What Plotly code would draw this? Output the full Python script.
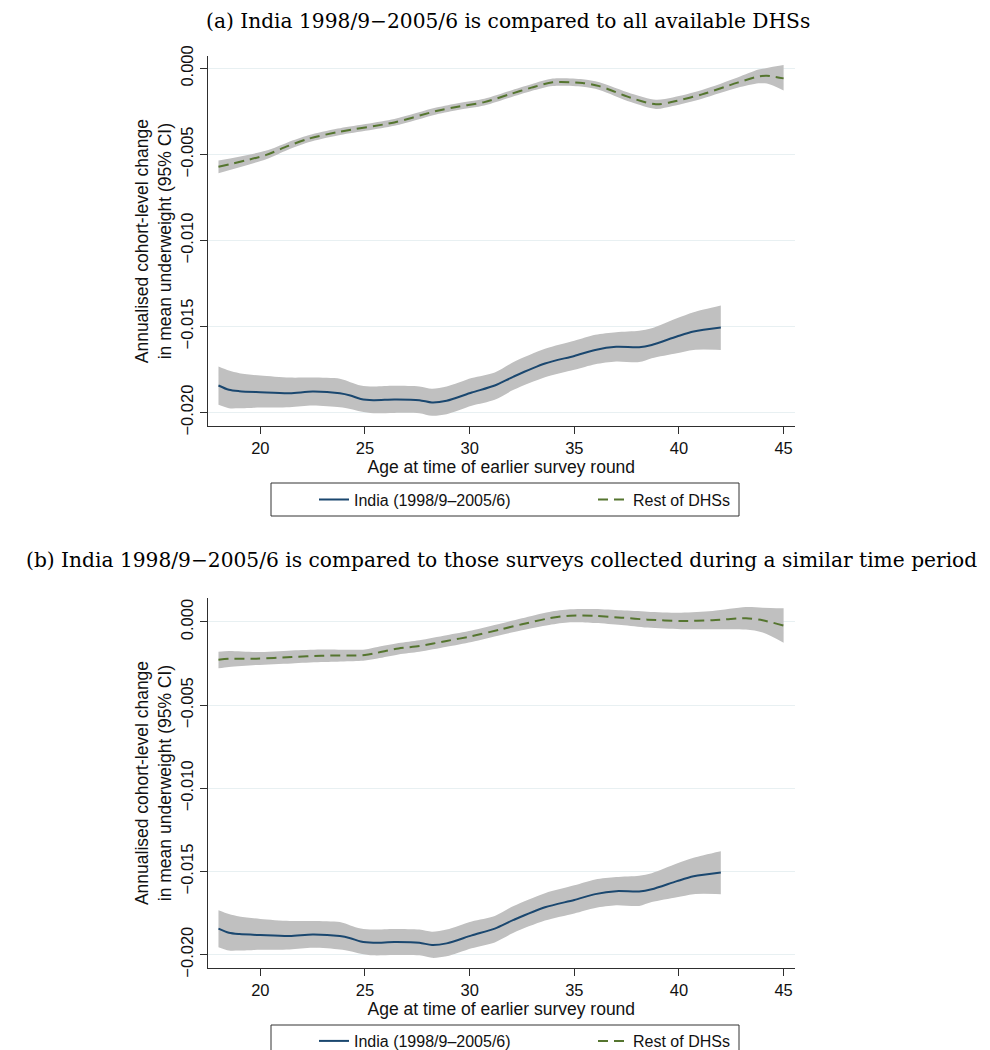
import plotly.graph_objects as go

# ---------------- data ----------------
# India (1998/9-2005/6) -- identical estimates in both panels
india_age = [18.0, 18.5, 19.0, 20.0, 21.4, 22.5, 23.8, 24.3, 24.8, 25.4, 26.4, 27.6, 28.2,
             28.9, 30.1, 31.2, 32.1, 33.6, 35.0, 36.0, 37.0, 38.1, 38.7, 39.9, 40.7, 42.0]
india_mean = [-0.01843, -0.01868, -0.01876, -0.01882, -0.01888, -0.01878, -0.01888, -0.01901,
              -0.01921, -0.01928, -0.01924, -0.01928, -0.01942, -0.01932, -0.01884, -0.01843,
              -0.01791, -0.01715, -0.01671, -0.01636, -0.01618, -0.01620, -0.01607, -0.01558,
              -0.01529, -0.01506]
india_upper = [-0.01733, -0.01756, -0.01771, -0.01785, -0.01797, -0.01797, -0.01804, -0.01824,
               -0.01843, -0.01849, -0.01845, -0.01849, -0.01862, -0.01849, -0.01800, -0.01767,
               -0.01707, -0.01630, -0.01583, -0.01548, -0.01533, -0.01525, -0.01510, -0.01452,
               -0.01417, -0.01378]
india_lower = [-0.01955, -0.01975, -0.01975, -0.01971, -0.01969, -0.01959, -0.01969, -0.01979,
               -0.01994, -0.02004, -0.02002, -0.02004, -0.02019, -0.02010, -0.01961, -0.01926,
               -0.01868, -0.01795, -0.01752, -0.01719, -0.01703, -0.01707, -0.01684, -0.01655,
               -0.01636, -0.01636]

# Rest of DHSs -- panel (a): all available DHSs
rest_a_age = [18.0, 20.25, 21.3, 22.3, 23.7, 26.4, 28.4, 29.5, 30.7, 31.9, 32.95, 33.97,
              35.4, 36.2, 37.7, 38.9, 39.7, 41.1, 42.8, 43.8, 44.2, 45.0]
rest_a_mean = [-0.00572, -0.00504, -0.00452, -0.00409, -0.00370, -0.00314, -0.00248, -0.00221,
               -0.00196, -0.00151, -0.00112, -0.00081, -0.00085, -0.00103, -0.00171, -0.00209,
               -0.00194, -0.00151, -0.00083, -0.00047, -0.00043, -0.00058]
rest_a_upper = [-0.00535, -0.00479, -0.00430, -0.00389, -0.00350, -0.00294, -0.00228, -0.00201,
                -0.00176, -0.00131, -0.00092, -0.00059, -0.00063, -0.00081, -0.00146, -0.00182,
                -0.00169, -0.00126, -0.00053, -0.00007, 0.00002, 0.00019]
rest_a_lower = [-0.00609, -0.00529, -0.00474, -0.00429, -0.00390, -0.00334, -0.00268, -0.00241,
                -0.00216, -0.00171, -0.00132, -0.00103, -0.00107, -0.00125, -0.00196, -0.00236,
                -0.00219, -0.00176, -0.00113, -0.00087, -0.00088, -0.00128]

# Rest of DHSs -- panel (b): surveys from a similar time period
rest_b_age = [18.0, 18.5, 19.8, 21.5, 22.9, 25.0, 25.6, 26.6, 27.6, 28.9, 30.1, 31.5, 32.5,
              33.8, 34.8, 36.0, 37.25, 38.5, 40.1, 41.6, 43.2, 44.0, 45.0]
rest_b_mean = [-0.00227, -0.00221, -0.00221, -0.00211, -0.00203, -0.00199, -0.00185, -0.00159,
               -0.00145, -0.00114, -0.00086, -0.00044, -0.00014, 0.00022, 0.00038, 0.00036,
               0.00026, 0.00014, 0.00006, 0.00010, 0.00022, 0.00010, -0.00022]
rest_b_upper = [-0.00179, -0.00175, -0.00181, -0.00171, -0.00165, -0.00165, -0.00151, -0.00127,
                -0.00110, -0.00080, -0.00052, -0.00010, 0.00022, 0.00060, 0.00076, 0.00078,
                0.00070, 0.00062, 0.00056, 0.00066, 0.00090, 0.00086, 0.00082]
rest_b_lower = [-0.00279, -0.00271, -0.00259, -0.00249, -0.00241, -0.00231, -0.00219, -0.00195,
                -0.00179, -0.00149, -0.00120, -0.00078, -0.00050, -0.00018, -0.00002, -0.00006,
                -0.00018, -0.00034, -0.00044, -0.00044, -0.00046, -0.00064, -0.00125]

x_ticks = [20, 25, 30, 35, 40, 45]
y_ticks = [0.0, -0.005, -0.010, -0.015, -0.020]
y_ticktext = ["0.000", "\u22120.005", "\u22120.010", "\u22120.015", "\u22120.020"]

series_names = ["India (1998/9\u20132005/6)", "Rest of DHSs"]
panel_titles = [
    "(a) India 1998/9\u22122005/6 is compared to all available DHSs",
    "(b) India 1998/9\u22122005/6 is compared to those surveys collected during a similar time period",
]
x_title = "Age at time of earlier survey round"
y_title = "Annualised cohort-level change<br>in mean underweight (95% CI)"

# ---------------- style ----------------
W, H = 990, 1050
NAVY = "#1a476f"
GREEN = "#55752f"
BAND = "#c0c0c0"
GRID = "#e8f0f2"
AXIS = "#2e2e2e"
TXT = "#111111"
SANS = "Liberation Sans, Arial, sans-serif"
SERIF = "DejaVu Serif, serif"


def px_x(p):
    return p / W


def px_y(p):
    return 1 - p / H


fig = go.Figure()


def add_panel(xa, ya, legends, rest_age, rest_mean, rest_up, rest_lo):
    # CI bands
    for age, up, lo in [(india_age, india_upper, india_lower), (rest_age, rest_up, rest_lo)]:
        fig.add_trace(go.Scatter(x=age, y=up, xaxis=xa, yaxis=ya, mode="lines",
                                 line=dict(width=0, color=BAND, shape="spline", smoothing=0.8),
                                 showlegend=False, hoverinfo="skip"))
        fig.add_trace(go.Scatter(x=age, y=lo, xaxis=xa, yaxis=ya, mode="lines",
                                 line=dict(width=0, color=BAND, shape="spline", smoothing=0.8),
                                 fill="tonexty", fillcolor=BAND,
                                 showlegend=False, hoverinfo="skip"))
    fig.add_trace(go.Scatter(x=india_age, y=india_mean, xaxis=xa, yaxis=ya, mode="lines",
                             name=series_names[0], legend=legends[0],
                             line=dict(color=NAVY, width=2, shape="spline", smoothing=0.8)))
    fig.add_trace(go.Scatter(x=rest_age, y=rest_mean, xaxis=xa, yaxis=ya, mode="lines",
                             name=series_names[1], legend=legends[1],
                             line=dict(color=GREEN, width=2, dash="10px,6px",
                                       shape="spline", smoothing=0.8)))


add_panel("x", "y", ("legend", "legend2"), rest_a_age, rest_a_mean, rest_a_upper, rest_a_lower)
add_panel("x2", "y2", ("legend3", "legend4"), rest_b_age, rest_b_mean, rest_b_upper, rest_b_lower)

x_dom = [px_x(200), px_x(786.7)]
x_range = [17.50, 45.53]

common_x = dict(range=x_range, tickvals=x_ticks, ticks="outside", ticklen=7, tickwidth=1.2,
                tickcolor=AXIS, showline=True, linecolor=AXIS, linewidth=1.3, showgrid=False,
                zeroline=False, tickfont=dict(family=SANS, size=16.5, color=TXT),
                title=dict(text=x_title, font=dict(family=SANS, size=17.5, color=TXT),
                           standoff=3),
                automargin=False, domain=x_dom)
common_y = dict(tickvals=y_ticks, ticktext=y_ticktext, tickangle=-90, ticks="outside",
                ticklen=7, tickwidth=1.2, tickcolor=AXIS, showline=True, linecolor=AXIS,
                linewidth=1.3, showgrid=True, gridcolor=GRID, gridwidth=1.2, zeroline=False,
                tickfont=dict(family=SANS, size=16.5, color=TXT),
                title=dict(text=y_title, font=dict(family=SANS, size=17.5, color=TXT),
                           standoff=2),
                automargin=False)

legend_common = dict(orientation="h", xanchor="left", yanchor="middle",
                     borderwidth=0, bgcolor="rgba(0,0,0,0)", itemwidth=30,
                     font=dict(family=SANS, size=16, color=TXT))

# legend box rows (top, bottom) in pixels for each panel
leg_rows = [(475, 508), (1017, 1049.5)]
leg_box_x = (263, 731)
leg_text_x = (347, 626)

legends = {}
shapes = []
for i, (top, bot) in enumerate(leg_rows):
    mid = px_y((top + bot) / 2)
    legends["legend" if i == 0 else "legend3"] = dict(legend_common, x=px_x(leg_text_x[0] - 41), y=mid)
    legends["legend2" if i == 0 else "legend4"] = dict(legend_common, x=px_x(leg_text_x[1] - 41), y=mid)
    shapes.append(dict(type="rect", xref="paper", yref="paper",
                       x0=px_x(leg_box_x[0]), x1=px_x(leg_box_x[1]),
                       y0=px_y(bot), y1=px_y(top),
                       line=dict(color="#333333", width=1), fillcolor="rgba(0,0,0,0)",
                       layer="below"))

fig.update_layout(
    width=W, height=H,
    margin=dict(l=0, r=0, t=0, b=0),
    paper_bgcolor="white", plot_bgcolor="white",
    xaxis=dict(common_x, anchor="y"),
    yaxis=dict(common_y, anchor="x", range=[-0.0208, 0.00072],
               domain=[px_y(418.3), px_y(48)]),
    xaxis2=dict(common_x, anchor="y2"),
    yaxis2=dict(common_y, anchor="x2", range=[-0.0208, 0.00144],
                domain=[px_y(960), px_y(590)]),
    shapes=shapes,
    annotations=[
        dict(text=panel_titles[0], x=px_x(500), y=px_y(13), xref="paper", yref="paper",
             xanchor="center", yanchor="middle", showarrow=False,
             font=dict(family=SERIF, size=20.2, color="#000000")),
        dict(text=panel_titles[1], x=px_x(493), y=px_y(552), xref="paper", yref="paper",
             xanchor="center", yanchor="middle", showarrow=False,
             font=dict(family=SERIF, size=20.2, color="#000000")),
    ],
    **legends,
)

fig.write_html("out.html")
